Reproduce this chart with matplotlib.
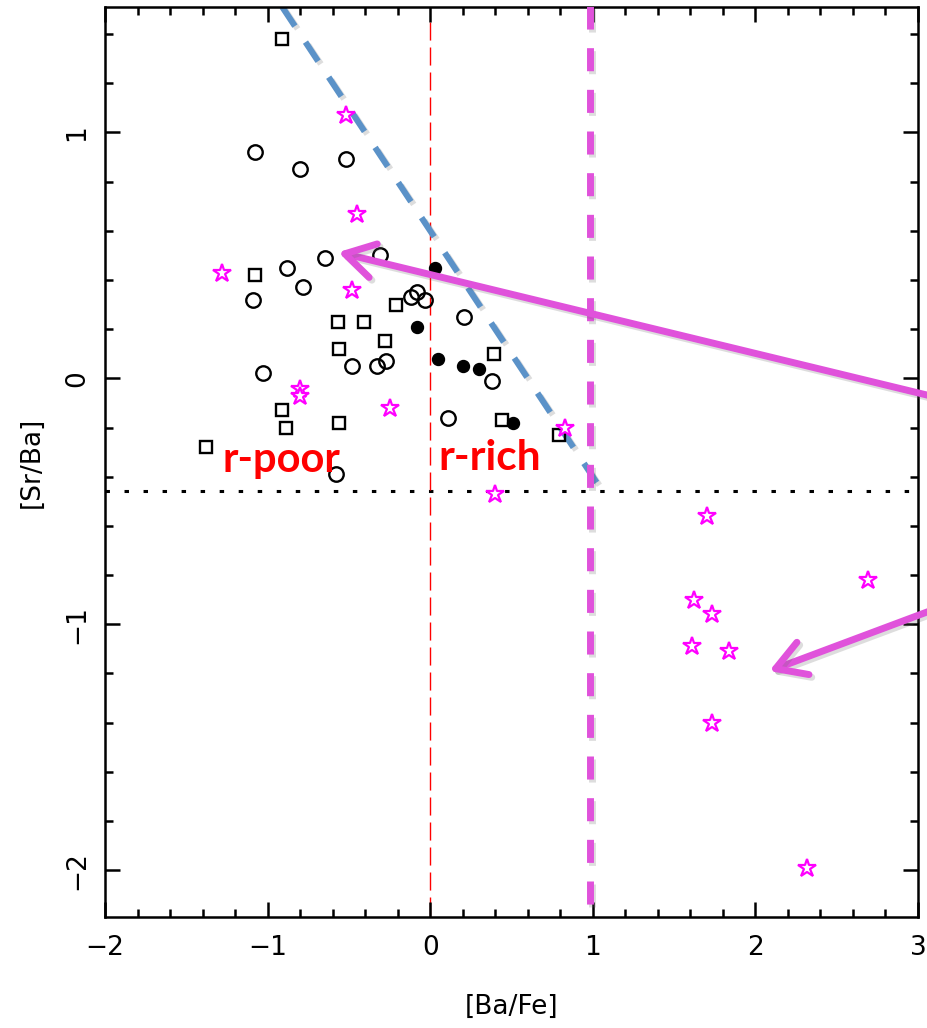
import matplotlib
matplotlib.use("Agg")
import matplotlib.pyplot as plt
import matplotlib.patheffects as pe
from matplotlib.ticker import MultipleLocator

plt.rcParams["lines.scale_dashes"] = False
plt.rcParams["font.family"] = "DejaVu Sans"

# [Ba/Fe], [Sr/Ba] for each sample
sq_x = [-0.91, -1.08, -0.57, -0.41, -0.21, -0.56, -0.28, -0.91, -0.89, -0.56, -1.38, 0.39, 0.44, 0.79]
sq_y = [1.38, 0.42, 0.23, 0.23, 0.30, 0.12, 0.15, -0.13, -0.20, -0.18, -0.28, 0.10, -0.17, -0.23]

oc_x = [-1.08, -0.80, -0.52, -0.65, -0.31, -0.88, -0.78, -1.09, -0.12, -0.08, -0.03,
        -0.48, -0.33, -0.27, -1.03, 0.11, -0.58, 0.21, 0.38]
oc_y = [0.92, 0.85, 0.89, 0.49, 0.50, 0.45, 0.37, 0.32, 0.33, 0.35, 0.32,
        0.05, 0.05, 0.07, 0.02, -0.16, -0.39, 0.25, -0.01]

fc_x = [0.03, -0.08, 0.05, 0.20, 0.30, 0.51]
fc_y = [0.45, 0.21, 0.08, 0.05, 0.04, -0.18]

st_x = [-0.52, -0.45, -1.28, -0.48, -0.80, -0.80, -0.25, 0.83, 0.40,
        1.70, 2.69, 1.62, 1.73, 1.61, 1.84, 1.73, 2.32]
st_y = [1.07, 0.67, 0.43, 0.36, -0.045, -0.07, -0.12, -0.20, -0.47,
        -0.56, -0.82, -0.90, -0.96, -1.09, -1.11, -1.40, -1.99]

# reference lines
sr_ba_cut = -0.46
diag_x = [-0.91, 1.045]
diag_y = [0.6 - v for v in diag_x]
ba_fe_cut = 0.98

MAG = "#E052DB"
BLUE = "#5B92C8"
shadow = [pe.SimpleLineShadow(offset=(2, -2), shadow_color="0.4", alpha=0.22), pe.Normal()]

fig = plt.figure(figsize=(9.27, 10.28), dpi=100)
ax = fig.add_axes([0.1133, 0.108, 0.877, 0.8852])
ax.set_xlim(-2, 3)
ax.set_ylim(-2.19, 1.51)

ax.plot([-2, 3], [sr_ba_cut, sr_ba_cut], color="black", lw=2.2,
        dashes=(3.2, 10.5), zorder=1)
ax.plot([0, 0], [1.447, -2.19], color="red", lw=1.0, dashes=(13, 5), zorder=1)
ax.plot(diag_x, diag_y, color=BLUE, lw=4.4, dashes=(16.5, 13.8),
        solid_capstyle="butt", dash_capstyle="butt", path_effects=shadow, zorder=2)

ax.plot(sq_x, sq_y, "s", ms=8, mfc="none", mec="black", mew=1.7, zorder=3)
ax.plot(oc_x, oc_y, "o", ms=10.4, mfc="none", mec="black", mew=1.7, zorder=3)
ax.plot(fc_x, fc_y, "o", ms=8.6, mfc="black", mec="black", mew=1, zorder=3)
ax.plot(st_x, st_y, "*", ms=13.5, mfc="white", mec="#FF00FF", mew=1.6, zorder=4)

ax.plot([ba_fe_cut, ba_fe_cut], [1.515, -2.14], color=MAG, lw=5, dashes=(16.6, 13.4),
        dash_capstyle="butt", path_effects=shadow, zorder=5)

ax.text(-1.275, -0.38, "r-poor", color="red", fontsize=30, fontweight="bold",
        family="Lato", ha="left", va="baseline", zorder=6)
ax.text(0.05, -0.372, "r-rich", color="red", fontsize=30.5, fontweight="bold",
        family="Lato", ha="left", va="baseline", zorder=6)

arrow_props = dict(arrowstyle="->,head_length=1.05,head_width=0.62", mutation_scale=20,
                   lw=5, color=MAG, shrinkA=0, shrinkB=0, capstyle="round",
                   joinstyle="round", path_effects=shadow)
ax.annotate("", xy=(-0.566, 0.513), xytext=(3.1, -0.075),
            arrowprops=arrow_props, annotation_clip=False, zorder=7)
ax.annotate("", xy=(2.085, -1.19), xytext=(3.1, -0.939),
            arrowprops=arrow_props, annotation_clip=False, zorder=7)

ax.xaxis.set_major_locator(MultipleLocator(1))
ax.xaxis.set_minor_locator(MultipleLocator(0.2))
ax.yaxis.set_major_locator(MultipleLocator(1))
ax.yaxis.set_minor_locator(MultipleLocator(0.2))
ax.tick_params(which="both", direction="in", top=True, right=True, width=1.8)
ax.tick_params(which="major", length=11, labelsize=19, pad=13)
ax.tick_params(which="minor", length=6)
ax.tick_params(axis="y", labelrotation=90, pad=11)
for lbl in ax.get_yticklabels():
    lbl.set_va("center")
for s in ax.spines.values():
    s.set_linewidth(1.8)

ax.set_xlabel("[Ba/Fe]", fontsize=19, labelpad=24)
ax.set_ylabel("[Sr/Ba]", fontsize=19, labelpad=14)

fig.savefig("out.png", dpi=100, facecolor="white")
